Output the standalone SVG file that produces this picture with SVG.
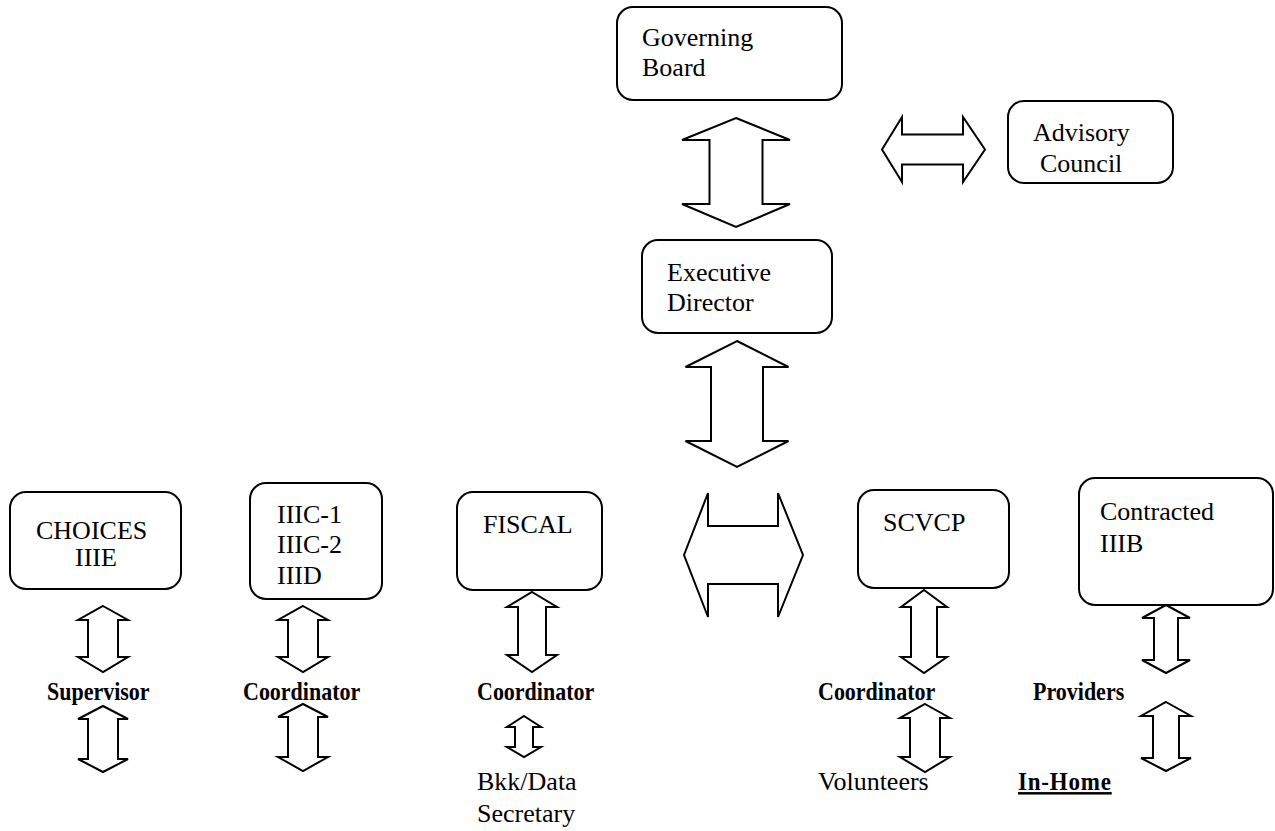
<svg xmlns="http://www.w3.org/2000/svg" width="1275" height="831" viewBox="0 0 1275 831">
<defs>
<style>
.box{fill:#fff;stroke:#000;stroke-width:2}
.arr{fill:#fff;stroke:#000;stroke-width:2;stroke-linejoin:miter}
.t{font-family:"Liberation Serif","Times New Roman",serif;font-size:26px;fill:#000}
.b{font-family:"Liberation Serif","Times New Roman",serif;font-size:22px;font-weight:bold;fill:#000}
</style>
<clipPath id="clipIII"><rect x="250" y="483" width="132" height="102"/></clipPath>
</defs>
<rect width="1275" height="831" fill="#fff"/>

<g id="governing-board">
<rect class="box" x="617" y="7" width="225" height="93" rx="16"/>
<text class="t" x="642" y="46">Governing</text>
<text class="t" x="642" y="76">Board</text>
</g>

<g id="advisory-council">
<rect class="box" x="1008" y="101" width="165" height="82" rx="16"/>
<text class="t" x="1033" y="141">Advisory</text>
<text class="t" x="1040" y="172">Council</text>
</g>

<g id="executive-director">
<rect class="box" x="642" y="240" width="190" height="93" rx="16"/>
<text class="t" x="667" y="281">Executive</text>
<text class="t" x="667" y="311">Director</text>
</g>

<g id="choices">
<rect class="box" x="10" y="492" width="171" height="97" rx="16"/>
<text class="t" x="36" y="539">CHOICES</text>
<text class="t" x="75" y="566">IIIE</text>
</g>

<g id="iiic">
<rect class="box" x="250" y="483" width="132" height="116" rx="16"/>
<g clip-path="url(#clipIII)">
<text class="t" x="277" y="523">IIIC-1</text>
<text class="t" x="277" y="553">IIIC-2</text>
<text class="t" x="277" y="584">IIID</text>
</g>
</g>

<g id="fiscal">
<rect class="box" x="457" y="492" width="145" height="98" rx="16"/>
<text class="t" x="483" y="533">FISCAL</text>
</g>

<g id="scvcp">
<rect class="box" x="858" y="490" width="151" height="98" rx="16"/>
<text class="t" x="883" y="531">SCVCP</text>
</g>

<g id="contracted">
<rect class="box" x="1079" y="478" width="194" height="127" rx="16"/>
<text class="t" x="1100" y="520">Contracted</text>
<text class="t" x="1100" y="552">IIIB</text>
</g>

<g id="supervisor"><text class="b" transform="translate(47,700) scale(1,1.12)">Supervisor</text></g>
<g id="coordinator-iiic"><text class="b" transform="translate(243,700) scale(1,1.12)">Coordinator</text></g>
<g id="coordinator-fiscal"><text class="b" transform="translate(477,700) scale(1,1.12)">Coordinator</text></g>
<g id="coordinator-scvcp"><text class="b" transform="translate(818,700) scale(1,1.12)">Coordinator</text></g>
<g id="providers"><text class="b" transform="translate(1033,700) scale(1,1.12)">Providers</text></g>
<g id="bkk-data"><text class="t" x="477" y="790">Bkk/Data</text><text class="t" x="477" y="822">Secretary</text></g>
<g id="volunteers"><text class="t" x="818" y="790">Volunteers</text></g>
<g id="in-home"><text class="b" transform="translate(1018,790) scale(1,1.08)" style="font-size:23px;letter-spacing:0.8px" text-decoration="underline">In-Home</text></g>

<g id="connectors">
<polygon class="arr" points="736,118 790,140 762.5,140 762.5,204 790,204 736,227 682,204 709.5,204 709.5,140 682,140"/>
<polygon class="arr" points="882,149.5 902,117 902,134.5 963,134.5 963,117 985,149.5 963,182 963,164.5 902,164.5 902,182"/>
<polygon class="arr" points="737,341 788.5,367 763,367 763,441 788.5,441 737,467 685.5,441 711,441 711,367 685.5,367"/>
<polygon class="arr" points="684,555 708,493 708,526 778,526 778,493 803,555 778,617 778,584 708,584 708,617"/>
<polygon class="arr" points="103,606 128,620 118,620 118,657 128,657 103,672 78,657 88,657 88,620 78,620"/>
<polygon class="arr" points="103,706 128,719 118,719 118,759 128,759 103,772 78,759 88,759 88,719 78,719"/>
<polygon class="arr" points="303,606 328,620 318,620 318,657 328,657 303,672 278,657 288,657 288,620 278,620"/>
<polygon class="arr" points="303,704 328,717 318,717 318,757 328,757 303,771 278,757 288,757 288,717 278,717"/>
<polygon class="arr" points="532,592 557,607 546,607 546,655 557,655 532,672 507,655 518,655 518,607 507,607"/>
<polygon class="arr" points="524,716 541,727 533,727 533,747 541,747 524,757 507,747 515,747 515,727 507,727"/>
<polygon class="arr" points="924,590 947,607 937,607 937,657 947,657 924,673 901,657 911,657 911,607 901,607"/>
<polygon class="arr" points="925,704 950,718 940,718 940,757 950,757 925,772 900,757 910,757 910,718 900,718"/>
<polygon class="arr" points="1166,605 1190,618 1178,618 1178,660 1190,660 1166,673 1142,660 1154,660 1154,618 1142,618"/>
<polygon class="arr" points="1166,702 1191,716 1179,716 1179,758 1191,758 1166,771 1141,758 1153,758 1153,716 1141,716"/>
</g>
</svg>
